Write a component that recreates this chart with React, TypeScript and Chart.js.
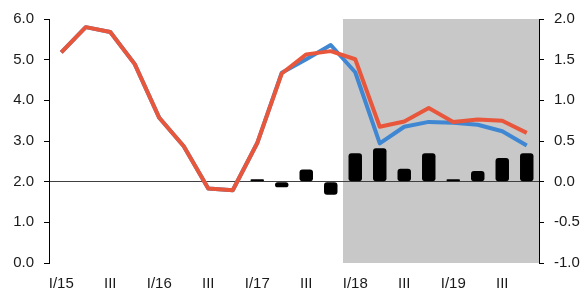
import React, { useEffect, useRef } from "react";
import { Chart, registerables } from "chart.js";

Chart.register(...registerables);

const categories = [
  "I/15", "II", "III", "IV",
  "I/16", "II", "III", "IV",
  "I/17", "II", "III", "IV",
  "I/18", "II", "III", "IV",
  "I/19", "II", "III", "IV",
];

const redSeries = [5.18, 5.8, 5.68, 4.89, 3.57, 2.87, 1.83, 1.79, 2.95, 4.66, 5.13, 5.21, 5.01, 3.35, 3.48, 3.81, 3.47, 3.53, 3.5, 3.2];
const blueSeries = [5.18, 5.8, 5.68, 4.89, 3.57, 2.87, 1.83, 1.79, 2.95, 4.68, 5.01, 5.36, 4.69, 2.94, 3.35, 3.47, 3.45, 3.4, 3.24, 2.89];
const barSeries = [null, null, null, null, null, null, null, null, 0.03, -0.07, 0.15, -0.16, 0.35, 0.41, 0.16, 0.35, 0.03, 0.13, 0.29, 0.35];

const shadeFromIndex = 12;

const leftMin = 0, leftMax = 6, leftStep = 1;
const rightMin = -1, rightMax = 2, rightStep = 0.5;

const FONT = { family: "'Liberation Sans', Arial, sans-serif", size: 15 };
const TEXT = "#1a1a1a";

const shadePlugin = {
  id: "shade",
  beforeDraw(chart: any) {
    const { ctx, chartArea, scales } = chart;
    const x = scales.x;
    const start = (x.getPixelForValue(shadeFromIndex - 1) + x.getPixelForValue(shadeFromIndex)) / 2;
    ctx.save();
    ctx.fillStyle = "#c8c8c8";
    ctx.fillRect(start, chartArea.top, chartArea.right - start, chartArea.bottom - chartArea.top);
    ctx.restore();
  },
};

export default function App() {
  const ref = useRef<HTMLCanvasElement | null>(null);
  useEffect(() => {
    if (!ref.current) return;
    const chart = new Chart(ref.current, {
      type: "bar",
      data: {
        labels: categories,
        datasets: [
          {
            type: "line",
            data: redSeries,
            borderColor: "#e8573c",
            borderWidth: 4,
            pointRadius: 0,
            tension: 0,
            yAxisID: "y",
            order: 1,
            borderJoinStyle: "round",
          } as any,
          {
            type: "line",
            data: blueSeries,
            borderColor: "#3f87d2",
            borderWidth: 4,
            pointRadius: 0,
            tension: 0,
            yAxisID: "y",
            order: 2,
            borderJoinStyle: "round",
          } as any,
          {
            type: "bar",
            data: barSeries,
            backgroundColor: "#000000",
            borderRadius: 3,
            borderSkipped: false,
            barPercentage: 0.55,
            categoryPercentage: 1,
            yAxisID: "y1",
            order: 3,
          } as any,
        ],
      },
      options: {
        responsive: false,
        animation: false,
        layout: { padding: { top: 17, left: 0, right: 0, bottom: 0 } },
        plugins: { legend: { display: false }, tooltip: { enabled: false } },
        scales: {
          x: {
            offset: true,
            grid: { display: false, drawTicks: false },
            border: { display: false },
            ticks: {
              autoSkip: false,
              maxRotation: 0,
              padding: 12,
              color: TEXT,
              font: FONT,
              callback: (_v: any, i: number) => (i % 2 === 0 ? categories[i] : ""),
            },
            afterFit: (s: any) => { s.height = 31; },
          },
          y: {
            position: "left",
            min: leftMin,
            max: leftMax,
            grid: {
              color: (c: any) => (c.tick && c.tick.value === 2 ? "#404040" : "rgba(0,0,0,0)"),
              tickColor: "#000000",
              tickLength: 5,
              lineWidth: 1,
            },
            border: { display: true, color: "#000000", width: 1 },
            ticks: {
              stepSize: leftStep,
              padding: 10,
              color: TEXT,
              font: FONT,
              callback: (v: any) => Number(v).toFixed(1),
            },
            afterFit: (s: any) => { s.width = 49; },
          },
          y1: {
            position: "right",
            min: rightMin,
            max: rightMax,
            grid: { drawOnChartArea: false, tickColor: "#000000", tickLength: 5 },
            border: { display: true, color: "#000000", width: 1 },
            ticks: {
              stepSize: rightStep,
              padding: 10,
              color: TEXT,
              font: FONT,
              callback: (v: any) => Number(v).toFixed(1),
            },
            afterFit: (s: any) => { s.width = 48; },
          },
        },
      },
      plugins: [shadePlugin],
    });
    return () => chart.destroy();
  }, []);
  return (
    <div style={{ position: "absolute", left: 0, top: 0, width: 587, height: 294, background: "#ffffff" }}>
      <canvas ref={ref} width={587} height={294} style={{ display: "block" }} />
    </div>
  );
}
